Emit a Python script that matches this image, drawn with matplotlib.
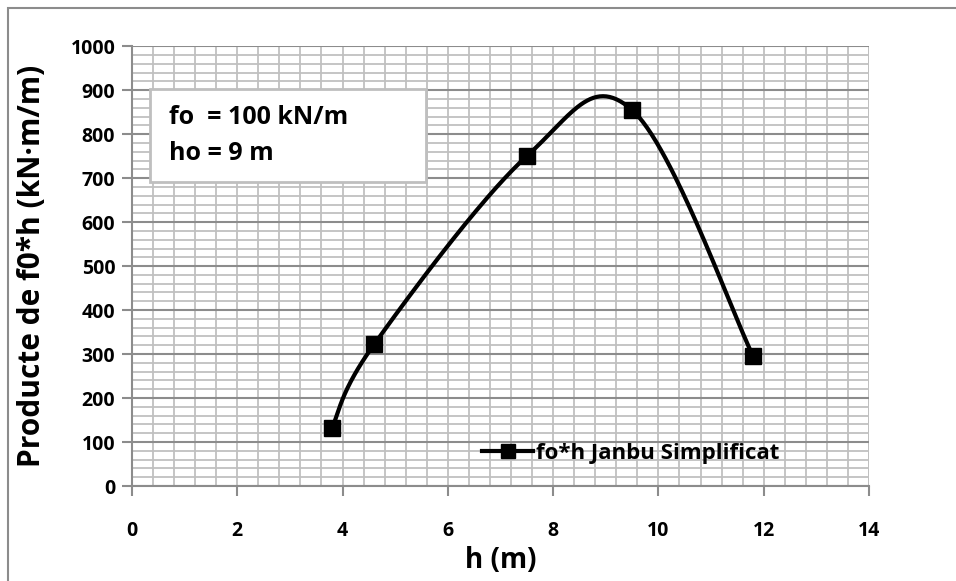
import numpy as np
import matplotlib.pyplot as plt
from matplotlib.patches import Rectangle
from matplotlib.lines import Line2D

h_values = [3.8, 4.6, 7.5, 9.5, 11.8]
foh_values = [133, 322, 750, 855, 295]
series_label = 'fo*h Janbu Simplificat'
x_ticks = [0, 2, 4, 6, 8, 10, 12, 14]
y_ticks = [0, 100, 200, 300, 400, 500, 600, 700, 800, 900, 1000]
note_lines = ['fo  = 100 kN/m', 'ho = 9 m']


def smooth_curve(xs, ys, k=0.178, n=60):
    # Excel-like smoothed line: cubic Bezier per segment, Catmull-Rom style tangents
    p = np.column_stack([xs, ys]).astype(float)
    p_ext = np.vstack([p[0], p, p[-1]])
    out = []
    for i in range(len(p) - 1):
        p0, p1, p2, p3 = p_ext[i], p_ext[i + 1], p_ext[i + 2], p_ext[i + 3]
        c1 = p1 + (p2 - p0) * k
        c2 = p2 - (p3 - p1) * k
        t = np.linspace(0, 1, n)[:, None]
        seg = ((1 - t) ** 3) * p1 + 3 * ((1 - t) ** 2) * t * c1 + 3 * (1 - t) * t ** 2 * c2 + t ** 3 * p2
        out.append(seg if i == 0 else seg[1:])
    out = np.vstack(out)
    return out[:, 0], out[:, 1]


plt.rcParams['font.family'] = ['Open Sans', 'DejaVu Sans']
plt.rcParams['font.weight'] = 'bold'

fig = plt.figure(figsize=(9.56, 5.81), dpi=100)
ax = fig.add_axes([0.138, 0.1635, 0.771, 0.757])

# outer chart border (only top/left visible in the reference)
fig.patches.append(Rectangle((8 / 956, -0.1), 1.2, (581 - 8) / 581 + 0.1,
                             transform=fig.transFigure, fill=False,
                             edgecolor='#8c8c8c', linewidth=1.5))

ax.set_xlim(0, 14)
ax.set_ylim(0, 1000)

# grid
for xv in np.arange(0, 14.01, 0.4):
    ax.axvline(xv, color='#c0c0c0', linewidth=1.3, zorder=0)
ax.axvline(14, color='#c0c0c0', linewidth=1.3, zorder=0)
for yv in np.arange(0, 1001, 20):
    if yv % 100 == 0:
        continue
    ax.axhline(yv, color='#c0c0c0', linewidth=1.3, zorder=0)
for yv in y_ticks:
    ax.axhline(yv, color='#8c8c8c', linewidth=1.5, zorder=0.5)

for s in ['top', 'right']:
    ax.spines[s].set_visible(False)
for s in ['left', 'bottom']:
    ax.spines[s].set_color('#8c8c8c')
    ax.spines[s].set_linewidth(1.5)

ax.set_xticks(x_ticks)
ax.set_yticks(y_ticks)
ax.tick_params(axis='both', colors='#8c8c8c', length=7, width=1.5, labelcolor='black')
ax.tick_params(axis='x', pad=18)
ax.tick_params(axis='y', pad=5)
for lab in ax.get_xticklabels() + ax.get_yticklabels():
    lab.set_fontweight('bold')
    lab.set_fontsize(14)

cx, cy = smooth_curve(h_values, foh_values)
ax.plot(cx, cy, color='black', linewidth=3.0, zorder=3, solid_capstyle='round')
ax.plot(h_values, foh_values, linestyle='none', marker='s', markersize=11,
        color='black', zorder=4)

ax.set_xlabel('h (m)', fontsize=20, fontweight='bold', labelpad=4)
ax.set_ylabel('Producte de f0*h (kN\u00b7m/m)', fontsize=21.5, fontweight='bold', labelpad=17)

# note box
ax.add_patch(Rectangle((0.34, 691), 5.245, 211, facecolor='white', edgecolor='#bfbfbf',
                       linewidth=2, zorder=5))
ax.text(0.70, 839, note_lines[0], fontsize=18, fontweight='bold', va='center', ha='left', zorder=6)
ax.text(0.70, 757, note_lines[1], fontsize=18, fontweight='bold', va='center', ha='left', zorder=6)

handle = Line2D([], [], color='black', linewidth=3.0, marker='s', markersize=10)
leg = ax.legend([handle], [series_label], loc='center left', bbox_to_anchor=(0.475, 0.075),
                frameon=False, handlelength=2.3, handletextpad=0.15,
                borderpad=0, borderaxespad=0, prop={'weight': 'bold', 'size': 16})

fig.savefig('out.png', dpi=100)
